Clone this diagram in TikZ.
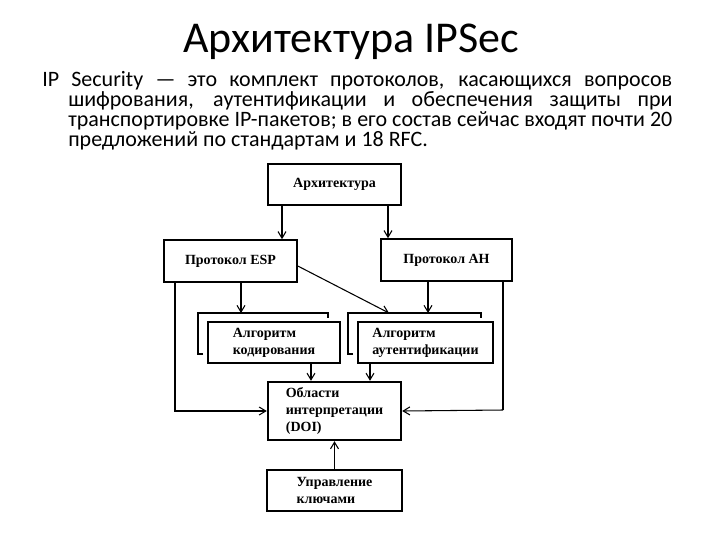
\documentclass[tikz,border=0pt]{standalone}
\usepackage{fontspec}
\setmainfont{Carlito}
\newfontfamily\schemefont{Liberation Serif}
\usetikzlibrary{arrows.meta,positioning}
\newdimen\pxu \pxu=0.75pt
\tikzset{
  heading/.style={anchor=base,inner sep=0pt,font=\fontsize{33}{40}\selectfont},
  intro/.style={anchor=north west,inner sep=0pt,text width=453pt,align=justify,
    font=\fontsize{16.5}{15}\selectfont},
  blk/.style={draw,line width=1.2pt,minimum width=#1*\pxu,minimum height=41*\pxu,
    inner sep=2pt,align=left,font=\schemefont\bfseries\fontsize{10.5}{12.75}\selectfont},
  back/.style={line width=1.5pt},
  link/.style={->,line width=0.8pt},
  heavy/.style={line width=1.8pt}
}
\begin{document}
\begin{tikzpicture}[x=0.75pt,y=-0.75pt,>={Straight Barb[length=5pt,width=6pt]}]
  \useasboundingbox (0,0) rectangle (720,540);
  \node[heading] (ttl) at (351,52) {Архитектура IPSec};
  \node[intro] (txt) at (68,71) {\tolerance=10000\hyphenpenalty=10000\exhyphenpenalty=10000
    \noindent\hspace*{-19.5pt}IP Security — это комплект протоколов, касающихся вопросов\linebreak
    шифрования, аутентификации и обеспечения защиты при\linebreak
    транспортировке IP-пакетов; в его состав сейчас входят почти 20\linebreak
    предложений по стандартам и 18 RFC.};

  \node[blk=133] (arch) at (334.5,184.5) {Архитектура};
  \node[blk=133,minimum height=42*\pxu] (esp) at (230.5,261) {Протокол ESP};
  \node[blk=131,minimum height=42*\pxu] (ah) at (446.5,260) {Протокол AH};
  \node[blk=132] (algc) at (274,342.5) {Алгоритм\\кодирования};
  \node[blk=135] (alga) at (425.5,342.5) {Алгоритм\\аутентификации};
  \node[blk=133,minimum height=58*\pxu,line width=1.8pt] (doi) at (334.5,411) {Области\\интерпретации\\(DOI)};
  \node[blk=135] (key) at (334.5,490.5) {Управление\\ключами};

  \coordinate (algcback) at (198,313);
  \coordinate (algaback) at (348,313);
  \coordinate (ahdrop) at (503,410);
  \draw[back] ([shift={(5,41)}]algcback) -- ++(-5,0) -- (algcback) -- ++(130,0) -- ++(0,5);
  \draw[back] ([shift={(5,41)}]algaback) -- ++(-5,0) -- (algaback) -- ++(133,0) -- ++(0,5);

  \draw[link] (arch.south -| 282,0) -- (esp.north -| 282,0);
  \draw[link] (arch.south -| 388,0) -- (ah.north -| 388,0);
  \draw[link] (esp.south -| 241,0) -- (algcback -| 241,0);
  \draw[link] (esp.south -| 175,0) |- (doi.west);
  \draw[link] (esp.east |- 0,266) -- (algaback -| 389,0);
  \draw[link] (ah.south -| 428,0) -- (algaback -| 428,0);
  \draw[heavy] (ah.south -| ahdrop) -- (ahdrop);
  \draw[link] (ahdrop) -- (doi.east);
  \draw[link] (algc.south -| 311,0) -- (doi.north -| 311,0);
  \draw[link] (alga.south -| 370,0) -- (doi.north -| 370,0);
  \draw[link] (key.north) -- (doi.south);
\end{tikzpicture}
\end{document}
